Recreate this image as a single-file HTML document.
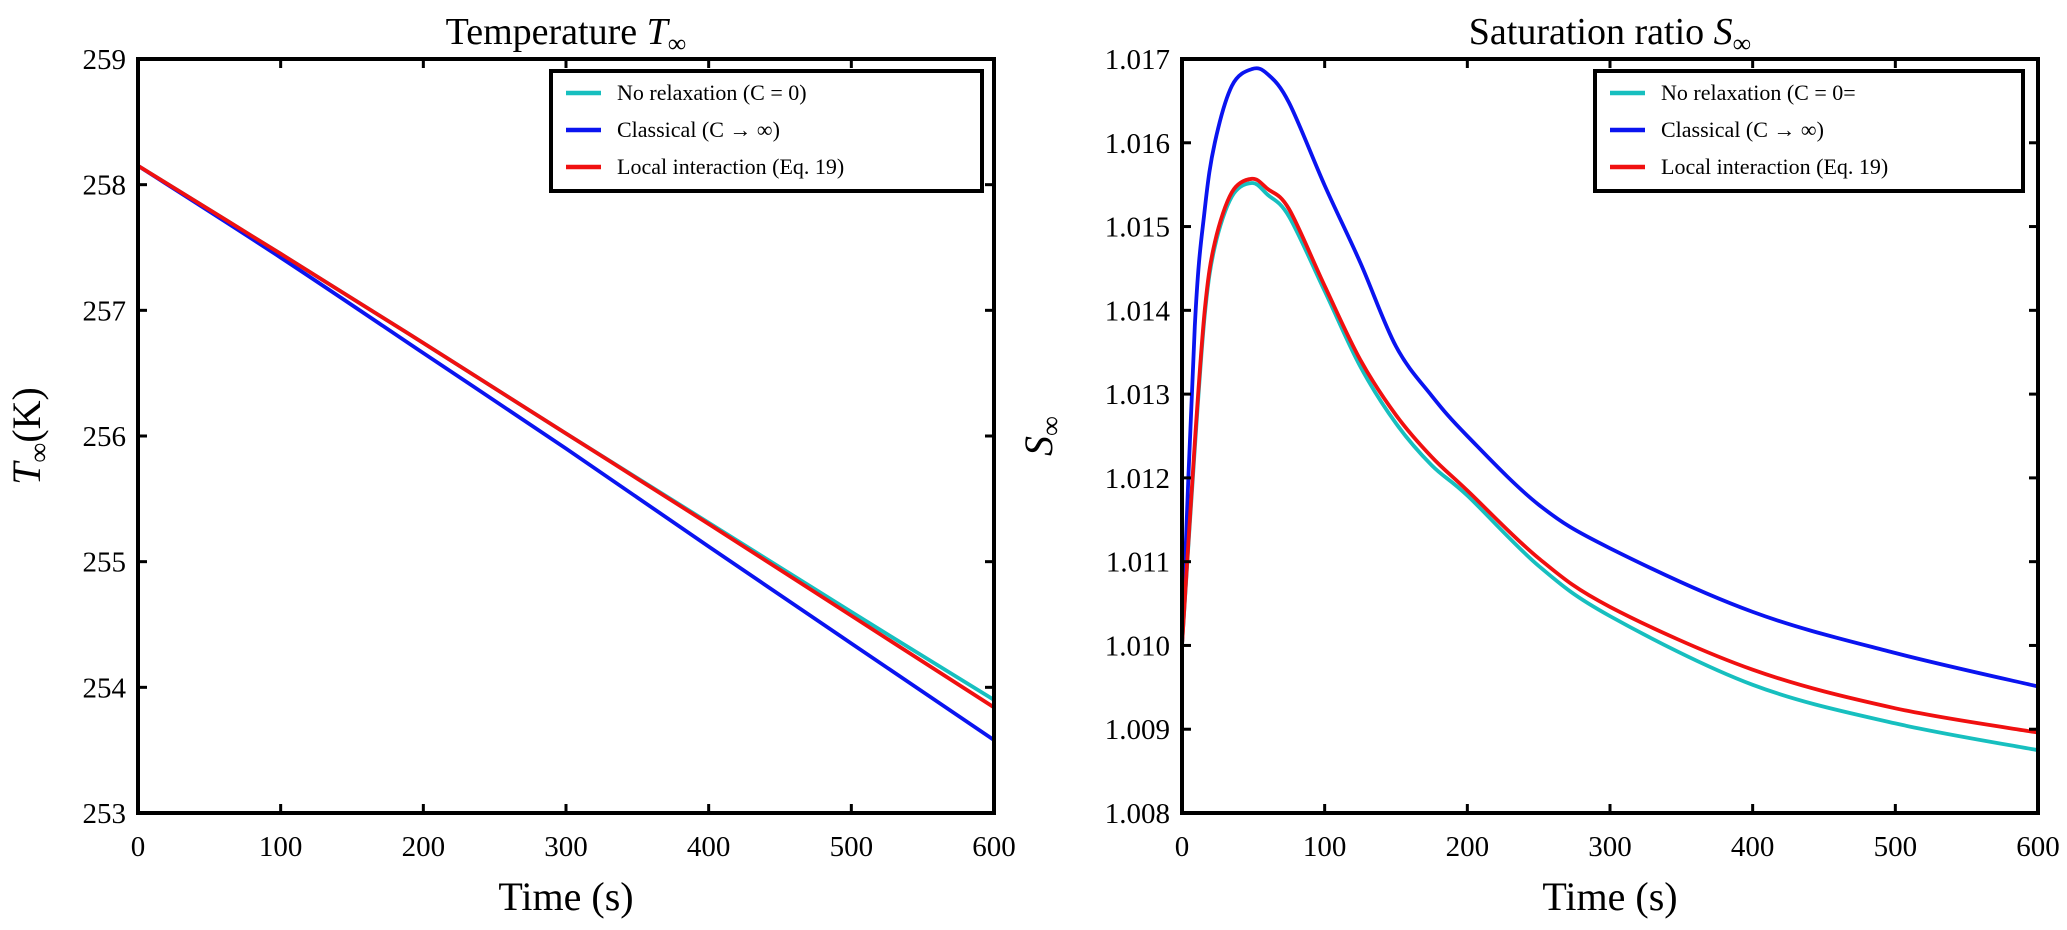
<!DOCTYPE html>
<html><head><meta charset="utf-8"><style>
body{margin:0;background:#fff}
svg{display:block;font-family:"Liberation Serif","DejaVu Serif",serif}
</style></head><body>
<svg id="c" width="2067" height="930" viewBox="0 0 2067 930" xmlns="http://www.w3.org/2000/svg"></svg>
<script>
const tTimes=[0,100,200,300,400,500,600];
const tNoRelax=[258.15,257.45,256.74,256.02,255.31,254.6,253.9];
const tClassical=[258.15,257.42,256.66,255.9,255.12,254.35,253.58];
const tLocal=[258.15,257.45,256.74,256.02,255.3,254.57,253.84];
const sTimes=[0,9,16,23,35,49,60,75,100,125,150,175,200,250,300,400,500,600];
const sNoRelax=[1.0100,1.01235,1.01395,1.01476,1.01536,1.01552,1.01538,1.01512,1.01423,1.01333,1.01265,1.01215,1.01179,1.01095,1.01035,1.00953,1.00907,1.00875];
const sClassical=[1.0100,1.01381,1.01521,1.0160,1.01668,1.01688,1.01682,1.01648,1.01549,1.01457,1.01357,1.01298,1.0125,1.01168,1.01116,1.0104,1.00991,1.00951];
const sLocal=[1.0100,1.01242,1.01401,1.01481,1.01541,1.01557,1.01545,1.01521,1.01429,1.01341,1.01275,1.01225,1.01185,1.01104,1.01046,1.00971,1.00925,1.00896];
const xTicks=[0,100,200,300,400,500,600];
const tYTicks=[253,254,255,256,257,258,259];
const sYTicks=[1.008,1.009,1.010,1.011,1.012,1.013,1.014,1.015,1.016,1.017];
const legendLabels=["No relaxation (C = 0)","Classical (C \u2192 \u221E)","Local interaction (Eq. 19)"];
const legendLabelsR=["No relaxation (C = 0=","Classical (C \u2192 \u221E)","Local interaction (Eq. 19)"];
const colors=["#17bfbf","#0a14f0","#f01010"];

const NS="http://www.w3.org/2000/svg";
const svg=document.getElementById('c');
function mk(tag,attrs,parent){const e=document.createElementNS(NS,tag);for(const k in attrs)e.setAttribute(k,attrs[k]);(parent||svg).appendChild(e);return e;}
function smooth(pts){
  let d='M'+pts[0][0].toFixed(1)+' '+pts[0][1].toFixed(1);
  for(let i=0;i<pts.length-1;i++){
    const p0=pts[Math.max(i-1,0)],p1=pts[i],p2=pts[i+1],p3=pts[Math.min(i+2,pts.length-1)];
    const c1=[p1[0]+(p2[0]-p0[0])/6,p1[1]+(p2[1]-p0[1])/6];
    const c2=[p2[0]-(p3[0]-p1[0])/6,p2[1]-(p3[1]-p1[1])/6];
    d+='C'+c1.map(v=>v.toFixed(1)).join(' ')+' '+c2.map(v=>v.toFixed(1)).join(' ')+' '+p2[0].toFixed(1)+' '+p2[1].toFixed(1);
  }
  return d;
}
function panel(p){
  const g=mk('g',{});
  
  
  const X=v=>p.x0+(v-0)/600*(p.x1-p.x0);
  const Y=v=>p.y1-(v-p.ymin)/(p.ymax-p.ymin)*(p.y1-p.y0);
  p.series.forEach((s,i)=>{
    const pts=s.times.map((t,j)=>[X(t),Y(s.vals[j])]);
    const path=mk('path',{d:smooth(pts),fill:'none',stroke:colors[i],'stroke-width':3.8,'stroke-linejoin':'round'},g);
    
    
  });
  const fr=mk('rect',{x:p.x0,y:p.y0,width:p.x1-p.x0,height:p.y1-p.y0,fill:'none',stroke:'#000','stroke-width':4},g);
  
  
  xTicks.forEach(v=>{
    const x=X(v);
    mk('line',{x1:x,x2:x,y1:p.y1,y2:p.y1-9,stroke:'#000','stroke-width':3},g);
    mk('line',{x1:x,x2:x,y1:p.y0,y2:p.y0+9,stroke:'#000','stroke-width':3},g);
    const t=mk('text',{x:x,y:p.y1+43,'font-size':29,'text-anchor':'middle'},g);
    t.textContent=v;
    
    
  });
  p.yTicks.forEach(v=>{
    const y=Y(v);
    mk('line',{x1:p.x0,x2:p.x0+9,y1:y,y2:y,stroke:'#000','stroke-width':3},g);
    mk('line',{x1:p.x1,x2:p.x1-9,y1:y,y2:y,stroke:'#000','stroke-width':3},g);
    const t=mk('text',{x:p.x0-12,y:y+10,'font-size':29,'text-anchor':'end'},g);
    t.textContent=p.fmt(v);
    
    
  });
  const ti=mk('text',{x:(p.x0+p.x1)/2,y:44,'font-size':38,'text-anchor':'middle'},g);
  ti.innerHTML=p.title;
  
  
  const xl=mk('text',{x:(p.x0+p.x1)/2,y:910,'font-size':40,'text-anchor':'middle'},g);
  xl.textContent='Time (s)';
  
  
  const yl=mk('text',{x:0,y:0,'font-size':40,'text-anchor':'middle',transform:`translate(${p.ylx},${(p.y0+p.y1)/2}) rotate(-90)`},g);
  yl.innerHTML=p.ylabel;
  
  
  const lg=mk('g',{},g);
  
  
  mk('rect',{x:p.lx,y:71,width:p.lw,height:120,fill:'#fff',stroke:'#000','stroke-width':4},lg);
  p.labels.forEach((lab,i)=>{
    const y=93+i*37;
    const ln=mk('line',{x1:p.lx+15,x2:p.lx+50,y1:y,y2:y,stroke:colors[i],'stroke-width':4.5},lg);
    
    
    const t=mk('text',{x:p.lx+66,y:y+7,'font-size':22},lg);
    t.textContent=lab;
    
    
  });
}
panel({name:'temperature-panel',x0:138,x1:994,y0:59,y1:813,ymin:253,ymax:259,yTicks:tYTicks,fmt:v=>v,
  title:'Temperature <tspan font-style="italic">T</tspan><tspan font-size="26" dy="8">∞</tspan>',
  ylabel:'<tspan font-style="italic">T</tspan><tspan font-size="28" dy="8">∞</tspan><tspan dy="-8">(K)</tspan>',ylx:40,
  lx:551,lw:431,labels:legendLabels,
  series:[{name:'t-no-relaxation-line',times:tTimes,vals:tNoRelax},{name:'t-classical-line',times:tTimes,vals:tClassical},{name:'t-local-line',times:tTimes,vals:tLocal}]});
panel({name:'saturation-panel',x0:1182,x1:2038,y0:59,y1:813,ymin:1.008,ymax:1.017,yTicks:sYTicks,fmt:v=>v.toFixed(3),
  title:'Saturation ratio <tspan font-style="italic">S</tspan><tspan font-size="26" dy="8">∞</tspan>',
  ylabel:'<tspan font-style="italic">S</tspan><tspan font-size="28" dy="8">∞</tspan>',ylx:1052,
  lx:1595,lw:428,labels:legendLabelsR,
  series:[{name:'s-no-relaxation-line',times:sTimes,vals:sNoRelax},{name:'s-classical-line',times:sTimes,vals:sClassical},{name:'s-local-line',times:sTimes,vals:sLocal}]});
</script>
</body></html>
